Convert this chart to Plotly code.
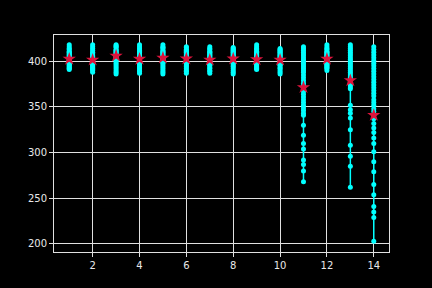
import plotly.graph_objects as go

positions = list(range(1, 15))

col_values = [
    [418, 416, 414, 413, 411, 410, 409, 408, 407, 406, 405, 404, 403, 402, 401, 400, 399, 398, 397, 396, 395, 394, 393, 392, 391],
    [418, 416, 414, 412, 410, 409, 408, 406, 405, 404, 403, 402, 401, 400, 399, 398, 397, 396, 395, 394, 393, 392, 391, 390, 388],
    [418, 417, 416, 415, 413, 412, 411, 410, 409, 408, 407, 406, 405, 404, 403, 402, 401, 400, 398, 396, 394, 392, 390, 388, 386],
    [418, 416, 414, 412, 411, 410, 409, 408, 406, 405, 404, 403, 402, 401, 400, 399, 398, 397, 396, 394, 393, 392, 390, 389, 387],
    [418, 416, 415, 414, 412, 411, 410, 409, 408, 407, 406, 405, 404, 403, 402, 401, 400, 399, 398, 396, 394, 392, 390, 388, 386],
    [416, 415, 413, 412, 411, 410, 409, 408, 407, 406, 405, 404, 403, 402, 401, 400, 399, 398, 397, 395, 394, 392, 390, 389, 387],
    [416, 414, 413, 411, 410, 409, 408, 407, 406, 405, 404, 403, 402, 401, 400, 399, 398, 397, 396, 395, 393, 392, 390, 389, 387],
    [415, 414, 413, 412, 411, 410, 409, 408, 407, 406, 405, 404, 403, 402, 401, 400, 399, 398, 397, 395, 394, 392, 390, 388, 386],
    [418, 416, 414, 413, 411, 410, 409, 408, 407, 406, 405, 404, 403, 402, 401, 400, 399, 398, 397, 396, 395, 394, 393, 392, 391],
    [414, 413, 412, 411, 410, 409, 408, 407, 406, 405, 404, 403, 402, 401, 400, 399, 398, 397, 396, 395, 393, 392, 390, 388, 386],
    [416, 414, 412, 410, 408, 406, 404, 402, 400, 398, 396, 394, 392, 390, 388, 385, 382, 379, 376, 373, 370, 367, 364, 361, 358, 355, 352, 349, 346, 343, 341, 330, 319, 310, 304, 292, 287, 280, 268],
    [418, 416, 414, 413, 411, 410, 409, 408, 407, 406, 405, 404, 403, 402, 401, 400, 399, 398, 397, 396, 395, 394, 393, 392, 390],
    [418, 416, 414, 412, 410, 408, 406, 404, 402, 400, 398, 396, 394, 392, 390, 388, 386, 384, 382, 380, 378, 376, 374, 372, 370, 352, 347, 343, 338, 325, 308, 296, 285, 262],
    [416, 413, 410, 407, 404, 401, 398, 395, 392, 389, 386, 383, 380, 377, 374, 371, 368, 365, 362, 358, 355, 352, 348, 345, 341, 337, 332, 327, 322, 316, 310, 301, 290, 279, 265, 254, 241, 235, 229, 203],
]

col_means = [402.5, 401.5, 406, 402.5, 403.8, 402.8, 401.5, 402.8, 402, 401.5, 371.5, 402.5, 379, 341]

x_ticks = [2, 4, 6, 8, 10, 12, 14]
y_ticks = [200, 250, 300, 350, 400]

fig = go.Figure()
for pos, vals in zip(positions, col_values):
    fig.add_trace(go.Scatter(
        x=[pos] * len(vals), y=vals, mode="lines+markers",
        line=dict(color="cyan", width=1.5),
        marker=dict(color="cyan", size=5),
        showlegend=False, hoverinfo="skip",
    ))

fig.add_trace(go.Scatter(
    x=positions, y=col_means, mode="markers",
    marker=dict(symbol="star", color="crimson", size=10),
    showlegend=False,
))

axis_common = dict(
    showgrid=True, gridcolor="#e0e0e0", gridwidth=1,
    showline=True, linecolor="#e0e0e0", linewidth=1, mirror=True,
    ticks="outside", ticklen=4, tickcolor="#e0e0e0",
    tickfont=dict(family="DejaVu Sans", size=10, color="#e8e8e8"),
    zeroline=False,
)

fig.update_layout(
    width=432, height=288,
    margin=dict(l=54, r=43, t=35, b=36),
    paper_bgcolor="black", plot_bgcolor="black",
    xaxis=dict(range=[0.35, 14.65], tickvals=x_ticks, **axis_common),
    yaxis=dict(range=[191.2, 428.8], tickvals=y_ticks, **axis_common),
)

fig.write_html("out.html")
